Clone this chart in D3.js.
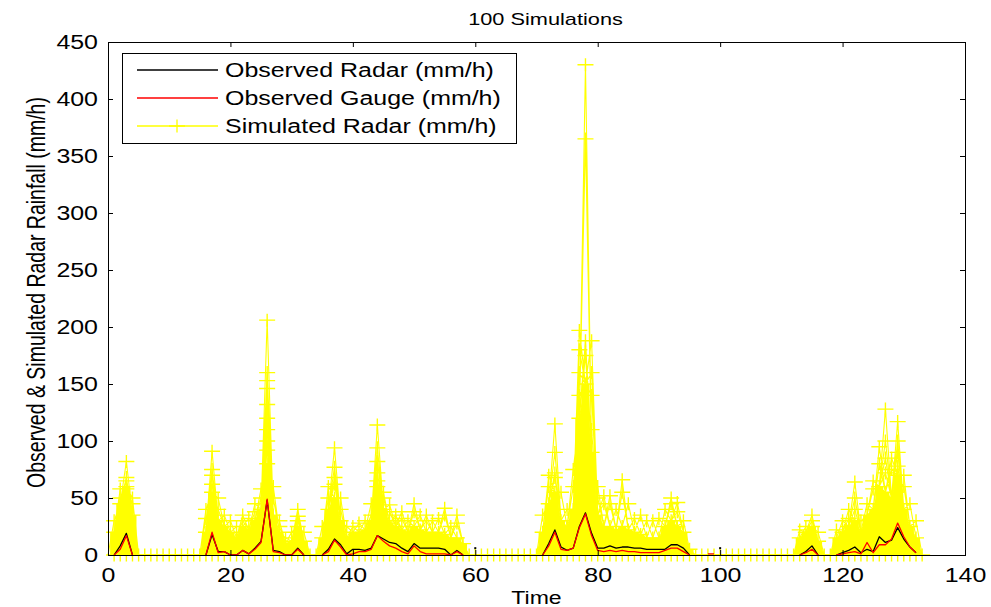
<!DOCTYPE html>
<html><head><meta charset="utf-8">
<script src="https://cdn.jsdelivr.net/npm/d3@7"></script>
<style>
body{margin:0;background:#fff}
svg{display:block;background:#fff}
text{font-family:"Liberation Sans",Arial,sans-serif;fill:#000}
</style>
</head><body>
<svg id="chart" width="991" height="607"></svg>
<script>
// ---------------- DATA ----------------
const titleText = "100 Simulations";
const xLabelText = "Time";
const yLabelText = "Observed & Simulated Radar Rainfall (mm/h)";
const seriesNames = ["Observed Radar (mm/h)", "Observed Gauge (mm/h)", "Simulated Radar (mm/h)"];
const xTickValues = [0, 20, 40, 60, 80, 100, 120, 140];
const yTickValues = [0, 50, 100, 150, 200, 250, 300, 350, 400, 450];

// time steps 1..133
const timeSteps = d3.range(1, 134);

// observed radar rainfall (null = no data)
const obsRadar = [
  0, 8, 19, 0, null, null, null, null, null, null,
  null, null, null, null, null, 0, 18, 3, 3, 0,
  0, 4, 1, 6, 12, 48, 4, 3, 0, 0,
  6, 0, null, null, 0, 5, 14, 9, 1, 5,
  5, 4, 6, 17, 14, 11, 10, 6, 3, 10,
  6, 6, 6, 6, 5, 0, 4, 0, null, 6,
  null, null, null, null, null, null, null, null, null, null,
  0, 10, 22, 7, 4, 6, 25, 37, 19, 6,
  6, 8, 6, 7, 7, 6, 6, 5, 5, 5,
  5, 9, 9, 6, 0, null, null, null, null, 6,
  null, null, null, null, null, null, null, null, null, null,
  null, null, 0, 3, 8, 0, null, null, 0, 2,
  4, 7, 2, 5, 3, 16, 11, 13, 24, 14,
  7, 2, null
];

// observed gauge rainfall
const obsGauge = [
  0, 5, 17, 0, null, null, null, null, null, null,
  null, null, null, null, null, 0, 20, 2, 3, 0,
  0, 4, 1, 5, 11, 49, 3, 2, 0, 0,
  5, 0, null, null, 0, 3, 13, 7, 0, 1,
  3, 3, 5, 17, 12, 8, 6, 3, 1, 8,
  3, 1, 1, 1, 1, 0, 3, 0, null, null,
  null, null, null, null, null, null, null, null, null, null,
  0, 8, 20, 5, 4, 6, 24, 36, 17, 4,
  3, 4, 3, 4, 3, 3, 2, 2, 2, 2,
  4, 6, 6, 3, 0, null, null, 1, 1, null,
  null, null, null, null, null, null, null, null, null, null,
  null, null, 0, 2, 5, 0, null, null, 0, 1,
  2, 3, 1, 11, 2, 9, 9, 14, 28, 16,
  7, 2, null
];

// level below which the 100 simulations are densely packed
const simDense = [
  20, 45, 60, 35, 0, 0, 0, 0, 0, 0,
  0, 0, 0, 0, 0, 20, 55, 30, 25, 20,
  15, 25, 22, 30, 40, 80, 35, 20, 10, 12,
  25, 12, 0, 0, 15, 40, 50, 30, 15, 20,
  20, 22, 30, 60, 40, 28, 25, 22, 20, 25,
  22, 20, 20, 20, 18, 15, 15, 10, 0, 0,
  0, 0, 0, 0, 0, 0, 0, 0, 0, 0,
  20, 45, 55, 30, 25, 40, 120, 150, 90, 35,
  25, 25, 22, 25, 22, 20, 18, 15, 15, 15,
  25, 30, 25, 20, 5, 0, 0, 0, 0, 0,
  0, 0, 0, 0, 0, 0, 0, 0, 0, 0,
  0, 0, 15, 20, 25, 12, 0, 0, 15, 20,
  25, 30, 20, 35, 40, 60, 55, 50, 70, 40,
  25, 15, 0
];

// individual simulated values standing out above the dense band: time
const simOutTime = [
  1,2,2,3,3,3,3,4,4,
  16,16,17,17,17,17,18,18,19,20,
  21,22,22,23,24,24,25,25,26,26,26,26,26,26,26,26,26,27,27,28,28,29,
  30,31,31,31,32,
  35,36,36,37,37,37,37,38,38,39,40,41,42,43,43,44,44,44,44,44,45,45,46,46,47,47,48,48,49,50,50,51,52,52,53,54,55,55,56,57,57,
  71,72,72,73,73,73,73,74,75,76,76,77,77,77,77,78,78,78,78,79,79,79,79,80,80,81,81,82,82,83,84,84,85,86,87,88,89,90,91,92,92,93,93,94,
  113,114,115,115,116,
  119,120,121,121,122,122,122,123,124,125,125,126,126,127,127,127,127,128,128,129,129,129,129,130,130,131,132
];
// ... and the matching simulated value (mm/h)
const simOutValue = [
  30,50,58,82,68,65,58,50,45,
  40,32,91,75,70,62,50,40,35,30,
  25,35,30,32,38,45,58,50,206,160,153,146,132,120,110,100,92,60,50,25,30,15,
  20,40,34,30,20,
  25,50,60,94,77,68,62,50,40,25,25,28,30,35,45,114,94,82,72,65,55,50,44,38,35,30,38,32,30,45,38,35,35,30,30,32,41,35,25,35,28,
  35,70,60,115,90,72,68,55,40,75,60,197,180,160,140,430,365,188,175,188,160,140,110,60,50,52,45,52,45,40,66,55,45,32,35,30,30,32,40,50,45,46,38,30,
  22,25,35,30,20,
  22,30,40,32,64,50,40,30,45,65,58,80,95,128,100,85,72,85,75,117,100,90,78,70,60,45,30
];

// ---------------- LAYOUT / STYLE ----------------
const svg = d3.select("#chart");
const L = 108, R = 965, T = 42, B = 555;
const SX = 1.28;         // horizontal glyph stretch of the original rendering
const FS = 19.5;         // font size
const YEL = "#ffff00";

const x = d3.scaleLinear().domain([0, 140]).range([L, R]);
const y = d3.scaleLinear().domain([0, 450]).range([B, T]);

const plusPath = (cx, cy) => `M${cx - 8},${cy}h16M${cx},${cy - 6.5}v13`;

// ---------------- SIMULATIONS ----------------
const gSim = svg.append("g");
const denseAt = i => (i >= 0 && i < simDense.length) ? simDense[i] : 0;

// dense band (area through the dense level)
gSim.append("path")
  .datum(timeSteps.map((t, i) => [t, simDense[i]]))
  .attr("fill", YEL).attr("stroke", YEL).attr("stroke-width", 1)
  .attr("d", d3.area().x(d => x(d[0])).y0(y(0)).y1(d => y(d[1])));

// blocky marker columns
gSim.selectAll("rect.col")
  .data(timeSteps.map((t, i) => [t, simDense[i]]).filter(d => d[1] > 0))
  .join("rect").attr("class", "col")
  .attr("x", d => x(d[0]) - 4).attr("width", 8)
  .attr("y", d => y(d[1])).attr("height", d => y(0) - y(d[1]))
  .attr("fill", YEL);

// lines of outstanding simulations to their neighbouring time steps
const spikeLine = d3.line().x(d => x(d[0])).y(d => y(d[1]));
let spikes = "";
simOutTime.forEach((t, k) => {
  const i = t - 1;
  spikes += spikeLine([[t - 1, denseAt(i - 1)], [t, simOutValue[k]], [t + 1, denseAt(i + 1)]]);
});
gSim.append("path").attr("d", spikes)
  .attr("fill", "none").attr("stroke", YEL).attr("stroke-width", 1.1);

// + markers : zero level, dense level, outstanding values
let marks = "";
timeSteps.forEach((t, i) => {
  marks += plusPath(x(t), y(0));
  if (simDense[i] > 0) marks += plusPath(x(t), y(simDense[i]));
});
simOutTime.forEach((t, k) => { marks += plusPath(x(t), y(simOutValue[k])); });
gSim.append("path").attr("d", marks)
  .attr("fill", "none").attr("stroke", YEL).attr("stroke-width", 1.4);

// ---------------- OBSERVED ----------------
function drawObs(values, color) {
  const pts = timeSteps.map((t, i) => [t, values[i]]);
  const line = d3.line().defined(d => d[1] !== null).x(d => x(d[0])).y(d => y(d[1]));
  svg.append("path").datum(pts).attr("d", line)
    .attr("fill", "none").attr("stroke", color).attr("stroke-width", 1.3)
    .attr("stroke-linejoin", "round");
  // isolated values
  pts.forEach((d, i) => {
    if (d[1] === null) return;
    const prev = i > 0 ? pts[i - 1][1] : null, next = i < pts.length - 1 ? pts[i + 1][1] : null;
    if (prev === null && next === null) {
      svg.append("rect").attr("x", x(d[0]) - 1).attr("y", y(d[1]) - 1)
        .attr("width", 2).attr("height", 2).attr("fill", color);
    }
  });
}
drawObs(obsRadar, "#000");
drawObs(obsGauge, "#ff0000");

// ---------------- AXES ----------------
function styleText(sel) {
  sel.attr("font-size", FS).attr("fill", "#000");
}
const ax = svg.append("g").attr("transform", `translate(0,${B})`)
  .call(d3.axisBottom(x).tickValues(xTickValues).tickSize(-5).tickFormat(d3.format("d")));
ax.select(".domain").remove();
ax.selectAll("line").attr("stroke", "#000");
ax.selectAll("text").call(styleText)
  .attr("y", 27).attr("dy", null)
  .attr("transform", `scale(${SX},1)`);

const axTop = svg.append("g").attr("transform", `translate(0,${T})`)
  .call(d3.axisTop(x).tickValues(xTickValues).tickSize(-5).tickFormat(""));
axTop.select(".domain").remove();
axTop.selectAll("line").attr("stroke", "#000");

const ay = svg.append("g").attr("transform", `translate(${L},0)`)
  .call(d3.axisLeft(y).tickValues(yTickValues).tickSize(-5).tickFormat(d3.format("d")));
ay.select(".domain").remove();
ay.selectAll("line").attr("stroke", "#000");
ay.selectAll("text").call(styleText)
  .attr("x", -10 / SX).attr("dy", "0.34em")
  .attr("transform", `scale(${SX},1)`);

const ayR = svg.append("g").attr("transform", `translate(${R},0)`)
  .call(d3.axisRight(y).tickValues(yTickValues).tickSize(-5).tickFormat(""));
ayR.select(".domain").remove();
ayR.selectAll("line").attr("stroke", "#000");

svg.append("rect").attr("x", L).attr("y", T).attr("width", R - L).attr("height", B - T)
  .attr("fill", "none").attr("stroke", "#000").attr("stroke-width", 1)
  .attr("shape-rendering", "crispEdges");

// titles
svg.append("text").text(titleText)
  .attr("text-anchor", "middle").attr("font-size", 17)
  .attr("transform", `translate(${(L + R) / 2 + 9},25) scale(${SX},1)`);
svg.append("text").text(xLabelText)
  .attr("text-anchor", "middle").attr("font-size", 18)
  .attr("transform", `translate(${(L + R) / 2},604) scale(${SX},1)`);
svg.append("text").text(yLabelText)
  .attr("text-anchor", "middle").attr("font-size", FS)
  .attr("transform", `translate(45,${(T + B) / 2 - 6}) rotate(-90) scale(1,${SX})`);

// ---------------- LEGEND ----------------
const lg = svg.append("g");
lg.append("rect").attr("x", 122).attr("y", 53).attr("width", 394).attr("height", 90)
  .attr("fill", "#fff").attr("stroke", "#000").attr("stroke-width", 1)
  .attr("shape-rendering", "crispEdges");
const legendColors = ["#000", "#ff0000", YEL];
seriesNames.forEach((name, i) => {
  const cy = 70 + i * 28;
  lg.append("line").attr("x1", 137).attr("x2", 218).attr("y1", cy).attr("y2", cy)
    .attr("stroke", legendColors[i]).attr("stroke-width", 1.3);
  if (i === 2) lg.append("path").attr("d", plusPath(177, cy))
    .attr("stroke", YEL).attr("stroke-width", 1.3).attr("fill", "none");
  lg.append("text").text(name).attr("font-size", FS)
    .attr("transform", `translate(225,${cy + 7}) scale(${SX},1)`);
});
</script>
</body></html>
